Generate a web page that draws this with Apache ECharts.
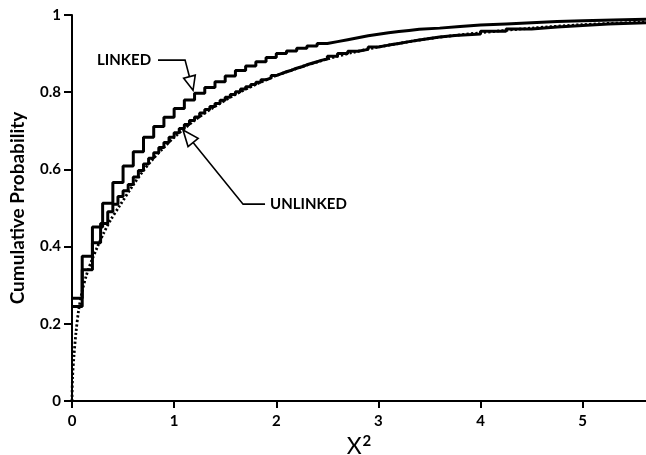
<!DOCTYPE html>
<html><head><meta charset="utf-8">
<script src="https://cdn.jsdelivr.net/npm/echarts@6/dist/echarts.min.js"></script>
<style>html,body{margin:0;padding:0;background:#fff}#c{width:646px;height:455px}</style>
</head><body><div id="c"></div>
<script>
// ---- data ----
const xTickValues = [0, 1, 2, 3, 4, 5];
const yTickValues = [0, 0.2, 0.4, 0.6, 0.8, 1];

// LINKED empirical cumulative distribution (step function, value holds from x to next x)
const linked = [
  [0, 0.266], [0.1, 0.375], [0.2, 0.451], [0.3, 0.512], [0.4, 0.566], [0.5, 0.609],
  [0.6, 0.646], [0.7, 0.683], [0.8, 0.711], [0.9, 0.735], [1.0, 0.758], [1.1, 0.78],
  [1.2, 0.797], [1.3, 0.812], [1.4, 0.827], [1.5, 0.842], [1.6, 0.856], [1.7, 0.868],
  [1.8, 0.879], [1.9, 0.89], [2.0, 0.9], [2.1, 0.907], [2.2, 0.914], [2.3, 0.92],
  [2.4, 0.926], [2.5, 0.931], [2.6, 0.936], [2.7, 0.941], [2.8, 0.946], [2.9, 0.95],
  [3.0, 0.954], [3.1, 0.957], [3.2, 0.96], [3.3, 0.963], [3.4, 0.966], [3.6, 0.97],
  [3.8, 0.974], [4.0, 0.977], [4.25, 0.98], [4.5, 0.983], [4.75, 0.985], [5.0, 0.987],
  [5.3, 0.989], [5.62, 0.99]
];

// UNLINKED empirical cumulative distribution (finer steps)
const unlinked = [
  [0, 0.245], [0.1, 0.34], [0.2, 0.41], [0.28, 0.46], [0.35, 0.49], [0.4, 0.51],
  [0.45, 0.53], [0.5, 0.545], [0.55, 0.561], [0.6, 0.58], [0.65, 0.597], [0.7, 0.614],
  [0.75, 0.629], [0.8, 0.643], [0.85, 0.657], [0.9, 0.67], [0.95, 0.683], [1.0, 0.695],
  [1.05, 0.706], [1.1, 0.716], [1.15, 0.727], [1.2, 0.736], [1.25, 0.746], [1.3, 0.755],
  [1.35, 0.763], [1.4, 0.771], [1.45, 0.779], [1.5, 0.787], [1.55, 0.794], [1.6, 0.801],
  [1.65, 0.808], [1.7, 0.814], [1.75, 0.82], [1.8, 0.826], [1.85, 0.832], [1.9, 0.837],
  [1.95, 0.843], [2.0, 0.848], [2.05, 0.853], [2.1, 0.857], [2.15, 0.862], [2.2, 0.866],
  [2.25, 0.871], [2.3, 0.875], [2.35, 0.879], [2.4, 0.883], [2.45, 0.886], [2.5, 0.893],
  [2.6, 0.9], [2.7, 0.906], [2.8, 0.911], [2.9, 0.917], [3.0, 0.922], [3.1, 0.926],
  [3.2, 0.931], [3.3, 0.935], [3.4, 0.939], [3.5, 0.943], [3.6, 0.947], [3.75, 0.951],
  [4.0, 0.958], [4.25, 0.964], [4.5, 0.969], [4.75, 0.973], [5.0, 0.977], [5.25, 0.98],
  [5.62, 0.982]
];

// Expected (dotted) curve
const expected = [
  [0, 0], [0.005, 0.06], [0.02, 0.12], [0.04, 0.18], [0.065, 0.235], [0.1, 0.285],
  [0.14, 0.325], [0.19, 0.362], [0.25, 0.4], [0.31, 0.435], [0.38, 0.47], [0.46, 0.503],
  [0.6, 0.56], [0.7, 0.597], [0.8, 0.629], [0.9, 0.657], [1.0, 0.683], [1.2, 0.727],
  [1.4, 0.763], [1.6, 0.794], [1.8, 0.82], [2.0, 0.843], [2.25, 0.866], [2.5, 0.886],
  [2.75, 0.903], [3.0, 0.917], [3.5, 0.939], [4.0, 0.954], [4.5, 0.966], [5.0, 0.975],
  [5.62, 0.982]
];

const seriesNames = ['LINKED', 'UNLINKED', 'Expected'];
const yAxisTitle = 'Cumulative Probability';

// annotation anchors in data coordinates
const linkedNote = { text: 'LINKED', at: [0.245, 0.883], path: [[0.842, 0.883], [1.107, 0.883]], tip: [1.185, 0.805] };
const unlinkedNote = { text: 'UNLINKED', at: [1.939, 0.51], path: [[1.89, 0.51], [1.675, 0.51]], tip: [1.087, 0.702] };

const chart = echarts.init(document.getElementById('c'), null, { renderer: 'canvas' });
const FONT = 'Lato, "DejaVu Sans", sans-serif';

chart.setOption({
  animation: false,
  backgroundColor: '#fff',
  grid: { left: 72, right: 0, top: 15, bottom: 54, containLabel: false, outerBoundsMode: 'none' },
  xAxis: {
    type: 'value', min: 0, max: 5.62,
    name: 'X{s|2}', nameLocation: 'middle', nameGap: 20,
    nameTextStyle: { color: '#000', fontFamily: FONT, fontSize: 23, fontWeight: 'normal',
      rich: { s: { fontSize: 15, fontWeight: 'bold', fontFamily: FONT, verticalAlign: 'top', padding: [0, 0, 10, 1] } } },
    axisLine: { lineStyle: { color: '#000', width: 2 } },
    axisTick: { customValues: xTickValues, length: 7, lineStyle: { color: '#000', width: 2 } },
    axisLabel: { customValues: xTickValues, color: '#000', fontFamily: FONT, fontWeight: 'bold', fontSize: 15, margin: 13 },
    splitLine: { show: false }
  },
  yAxis: {
    type: 'value', min: 0, max: 1, interval: 0.2,
    name: yAxisTitle, nameLocation: 'middle', nameGap: 45,
    nameTextStyle: { color: '#000', fontFamily: FONT, fontSize: 19, fontWeight: 'bold' },
    axisLine: { lineStyle: { color: '#000', width: 2 } },
    axisTick: { length: 8, lineStyle: { color: '#000', width: 2 } },
    axisLabel: { color: '#000', fontFamily: FONT, fontWeight: 'bold', fontSize: 15, margin: 11 },
    splitLine: { show: false }
  },
  series: [
    { name: seriesNames[0], type: 'line', step: 'end', data: linked, symbol: 'none',
      lineStyle: { color: '#000', width: 3 }, z: 3 },
    { name: seriesNames[1], type: 'line', step: 'end', data: unlinked, symbol: 'none',
      lineStyle: { color: '#000', width: 3 }, z: 3 },
    { name: seriesNames[2], type: 'line', smooth: 0.3, data: expected, symbol: 'none',
      lineStyle: { color: '#000', width: 2.8, type: [2.2, 2.2] }, z: 2 }
  ]
});

function px(p) { return chart.convertToPixel({ gridIndex: 0 }, p); }
function arrowHead(from, tip, len, half) {
  const dx = tip[0] - from[0], dy = tip[1] - from[1];
  const d = Math.hypot(dx, dy), ux = dx / d, uy = dy / d;
  const bx = tip[0] - ux * len, by = tip[1] - uy * len;
  return { base: [bx, by], pts: [tip, [bx - uy * half, by + ux * half], [bx + uy * half, by - ux * half]] };
}
function note(n, len, half) {
  const pts = n.path.map(px);
  const tip = px(n.tip);
  const head = arrowHead(pts[pts.length - 1], tip, len, half);
  const at = px(n.at);
  return [
    { type: 'text', x: at[0], y: at[1], z: 10,
      style: { text: n.text, fill: '#000', font: 'bold 15px ' + FONT, textVerticalAlign: 'middle' } },
    { type: 'polyline', z: 10, shape: { points: pts.concat([head.base]) },
      style: { stroke: '#000', lineWidth: 1.6, fill: null } },
    { type: 'polygon', z: 11, shape: { points: head.pts },
      style: { stroke: '#000', lineWidth: 1.6, fill: '#fff' } }
  ];
}
chart.setOption({ graphic: note(linkedNote, 14, 6).concat(note(unlinkedNote, 16, 6.5)) });
</script>
</body></html>
